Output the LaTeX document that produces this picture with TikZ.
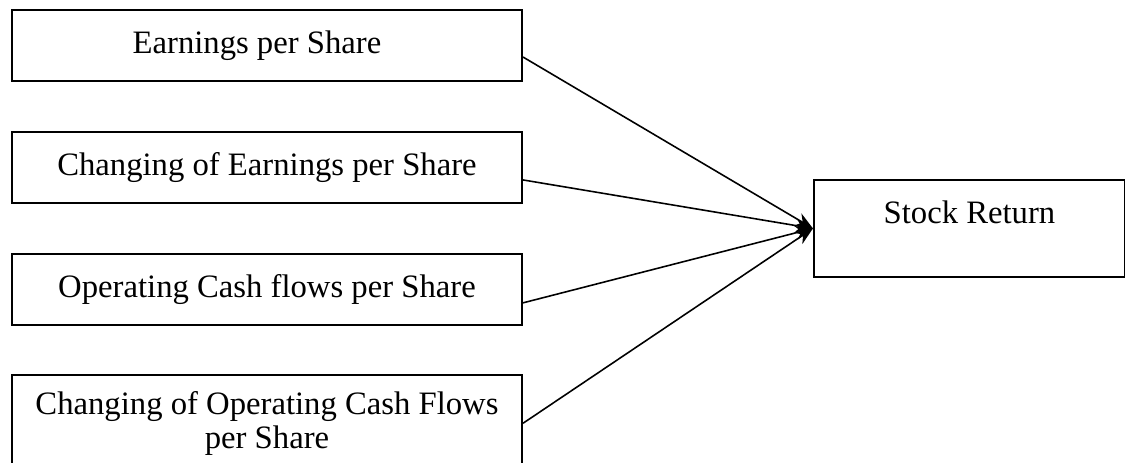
\documentclass[tikz,border=0pt]{standalone}
\usepackage{fontspec}
\setmainfont{Liberation Serif}
\usepackage{tikz}
\usetikzlibrary{arrows.meta, positioning}

\begin{document}
\begin{tikzpicture}[>={Stealth[length=10pt,width=8pt]},
        font=\fontsize{18.6}{19}\selectfont,
        factor/.style={rectangle, draw, line width=1.1pt, text width=9.8cm, align=flush center, minimum width=10.2cm, minimum height=1.42cm, inner sep=0pt},
        target/.style={rectangle, draw, line width=1.1pt, align=center, minimum width=6.22cm, minimum height=1.94cm, inner sep=0pt},
        link/.style={->, line width=0.9pt}
        ]
        \useasboundingbox (0,0) rectangle (22.5,-9.24);
        \clip (0,0) rectangle (22.5,-9.24);

        % Nodes
        \node [factor] (eps) at (5.34,-0.91) {\hspace*{-0.4cm}Earnings per Share};
        \node [factor, below=0.98cm of eps] (deps) {Changing of Earnings per Share};
        \node [factor, below=0.98cm of deps] (ocf) {Operating Cash flows per Share};
        \node [factor, below=0.96cm of ocf, minimum height=1.94cm] (docf) {Changing of Operating Cash Flows\\per Share};

        \node [target, right=5.8cm of deps, yshift=-1.22cm] (ret) {Stock Return\\\mbox{}};

        % Edges
        \draw[link] ([yshift=-0.23cm]eps.east) -- (ret.west);
        \draw[link] ([yshift=-0.25cm]deps.east) -- (ret.west);
        \draw[link] ([yshift=-0.27cm]ocf.east) -- (ret.west);
        \draw[link] (docf.east) -- (ret.west);

    \end{tikzpicture}
\end{document}
